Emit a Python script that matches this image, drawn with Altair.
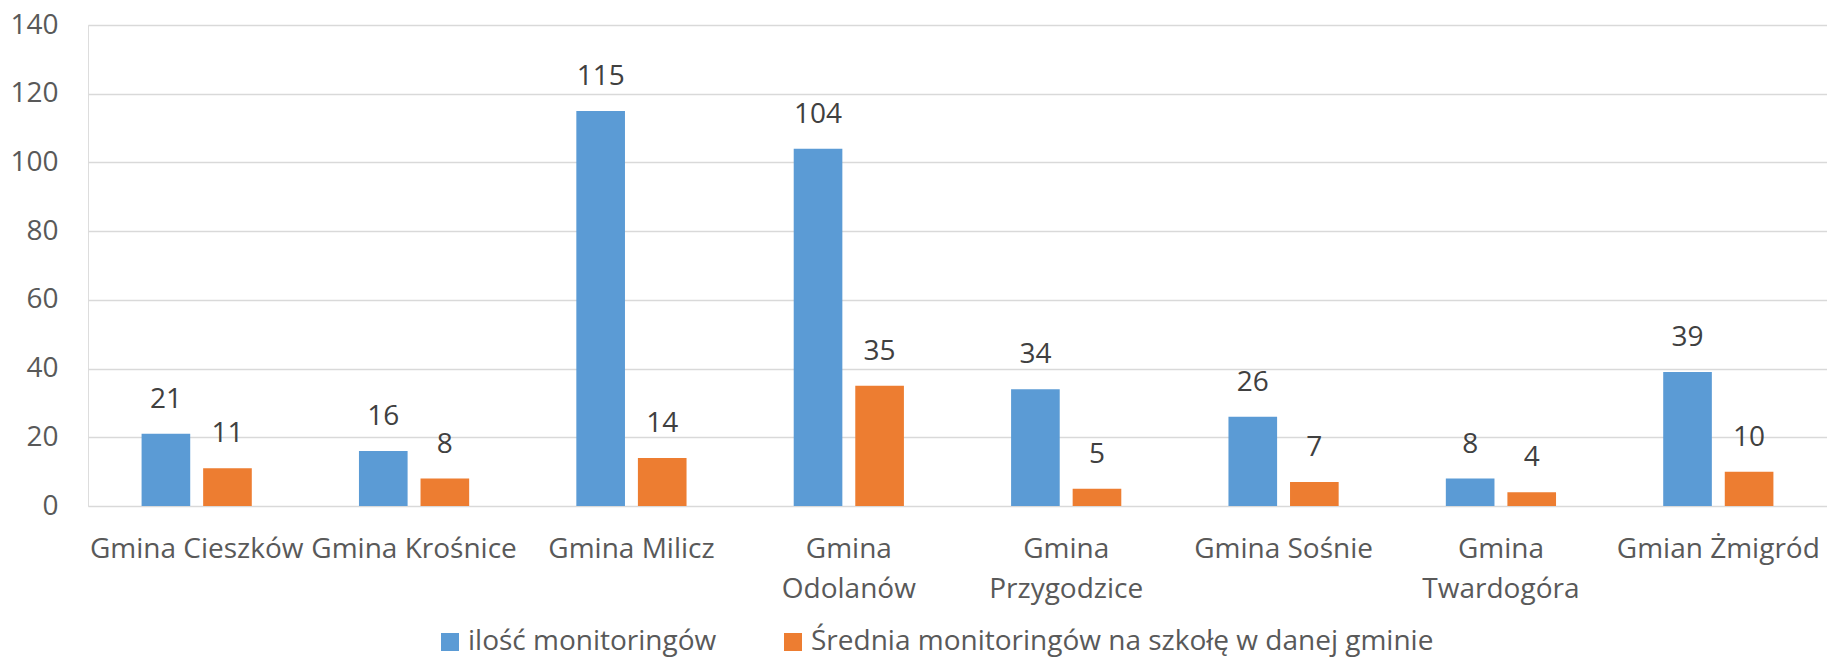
import altair as alt
import pandas as pd

categories = ["Gmina Cieszków", "Gmina Krośnice", "Gmina Milicz", "Gmina Odolanów",
              "Gmina Przygodzice", "Gmina Sośnie", "Gmina Twardogóra", "Gmian Żmigród"]
wrapped = ["Gmina Odolanów", "Gmina Przygodzice", "Gmina Twardogóra"]
series = ["ilość monitoringów", "Średnia monitoringów na szkołę w danej gminie"]
ilosc = [21, 16, 115, 104, 34, 26, 8, 39]
srednia = [11, 8, 14, 35, 5, 7, 4, 10]
colors = ["#5B9BD5", "#ED7D31"]
y_ticks = [0, 20, 40, 60, 80, 100, 120, 140]

rows = []
for c, a, b in zip(categories, ilosc, srednia):
    rows.append({"cat": c, "series": series[0], "value": a})
    rows.append({"cat": c, "series": series[1], "value": b})
df = pd.DataFrame(rows)

FONT = "Open Sans"
wrapped_js = "[" + ",".join("'" + w + "'" for w in wrapped) + "]"

x_enc = alt.X("cat:N", sort=categories, title=None,
              scale=alt.Scale(paddingInner=0.493, paddingOuter=0.2465),
              axis=alt.Axis(labelAngle=0, domain=False, ticks=False, labelPadding=29,
                            labelFontSize=28, labelFont=FONT, labelColor="#595959",
                            labelLineHeight=40, labelOverlap=False, labelLimit=0,
                            labelBound=False,
                            labelExpr="indexof(" + wrapped_js + ", datum.label) >= 0 ? split(datum.label, ' ') : datum.label"))
xoff = alt.XOffset("series:N", sort=series, scale=alt.Scale(paddingInner=0.21, paddingOuter=0))

bars = alt.Chart(df).mark_bar().encode(
    x=x_enc,
    xOffset=xoff,
    y=alt.Y("value:Q", title=None,
            scale=alt.Scale(domain=[0, 140], nice=False),
            axis=alt.Axis(values=y_ticks, domain=False, ticks=False, grid=True,
                          gridColor="#D9D9D9", gridWidth=1.5,
                          labelFontSize=28, labelFont=FONT, labelColor="#595959",
                          labelPadding=30)),
    color=alt.Color("series:N", sort=series,
                    scale=alt.Scale(domain=series, range=colors),
                    legend=alt.Legend(title=None, orient="none", direction="horizontal",
                                      legendX=348, legendY=603, padding=0,
                                      symbolType="square", symbolSize=324,
                                      symbolStrokeWidth=0, labelFontSize=28,
                                      labelFont=FONT, labelColor="#595959",
                                      labelLimit=0,
                                      labelOffset=4, columnPadding=62)),
)

labels = alt.Chart(df).mark_text(baseline="bottom", dy=-20, fontSize=28, font=FONT,
                                 color="#404040").encode(
    x=alt.X("cat:N", sort=categories),
    xOffset=xoff,
    y="value:Q",
    text="value:Q",
)

chart = alt.layer(bars, labels).properties(
    width=1739, height=481,
    autosize=alt.AutoSizeParams(type="none"),
    padding={"left": 80, "top": 17, "right": 0, "bottom": 152},
).configure_view(stroke=None).configure(background="white")

chart.save("out.html", embed_options={"renderer": "svg", "actions": False})
